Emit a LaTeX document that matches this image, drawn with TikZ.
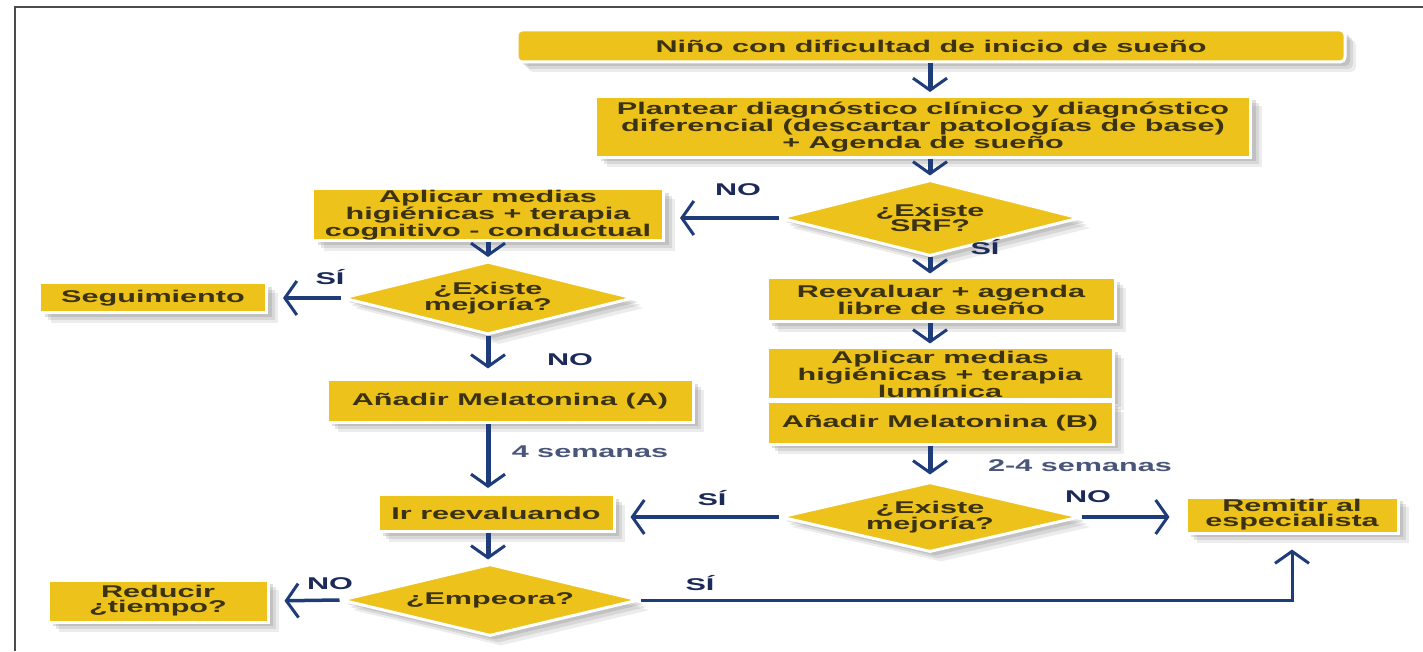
\documentclass[tikz,border=0pt]{standalone}
\usepackage{fontspec}
\setmainfont{Liberation Sans}[FakeStretch=1.8]
\usepackage{tikz}
\usetikzlibrary{arrows.meta,shapes.geometric,shadows}
\definecolor{boxyellow}{HTML}{EDC21A}
\definecolor{boxtext}{HTML}{3A3212}
\definecolor{arrowblue}{HTML}{1F3C7A}
\definecolor{lbltext}{HTML}{1B2A58}

\begin{document}
\begin{tikzpicture}[x=1pt,y=1pt,
  box/.style={rectangle,fill=boxyellow,draw=white,line width=3pt,text=boxtext,align=center,inner sep=0pt,
    font=\bfseries\fontsize{17}{15}\selectfont,
    drop shadow={shadow xshift=11pt,shadow yshift=-10pt,fill=black!50,opacity=.15},
    drop shadow={shadow xshift=8pt,shadow yshift=-7pt,fill=black!50,opacity=.2},
    drop shadow={shadow xshift=5pt,shadow yshift=-4pt,fill=black!50,opacity=.25}},
  dec/.style={box,diamond,aspect=4},
  lbl/.style={font=\bfseries\fontsize{17}{15}\selectfont,text=lbltext,inner sep=0pt},
  varrow/.style={->,line width=5pt,arrowblue,shorten >=3pt},
  harrow/.style={->,line width=3.5pt,arrowblue,shorten >=15pt}]
\useasboundingbox (0,0) rectangle (1423,651);
\draw[line width=2.5pt,black!70] (15,0) -- (15,644) -- (1423,644);

\coordinate (rc) at (930,0);
\coordinate (lc) at (488,0);

\begin{scope}
\node [box, rounded corners=5pt, minimum width=828, minimum height=32] (top) at (931,605) {Niño con dificultad de inicio de sueño};
\node [box, minimum width=655, minimum height=61] (plan) at (923,524) {Plantear diagnóstico clínico y diagnóstico\\diferencial (descartar patologías de base)\\+ Agenda de sueño};
\node [dec, minimum width=300, minimum height=76] (srf) at (930,433) {¿Existe\\SRF?};
\node [box, minimum width=351, minimum height=52] (aplA) at (488,436) {Aplicar medias\\higiénicas + terapia\\cognitivo - conductual};
\node [dec, minimum width=291, minimum height=73] (mejA) at (488,353) {¿Existe\\mejoría?};
\node [box, minimum width=227, minimum height=30] (seg) at (153,353) {Seguimiento};
\node [box, minimum width=366, minimum height=42] (melA) at (510,250) {Añadir Melatonina (A)};
\node [box, minimum width=236, minimum height=37] (irre) at (496,138) {Ir reevaluando};
\node [dec, minimum width=298, minimum height=72] (emp) at (490,51) {¿Empeora?};
\node [box, minimum width=220, minimum height=42] (red) at (158,50) {Reducir\\¿tiempo?};
\node [box, minimum width=348, minimum height=44] (reev) at (941,351) {Reevaluar + agenda\\libre de sueño};
\node [box, minimum width=346, minimum height=52] (aplB) at (940,277) {Aplicar medias\\higiénicas + terapia\\lumínica};
\node [box, minimum width=346, minimum height=42] (melB) at (940,228) {Añadir Melatonina (B)};
\node [dec, minimum width=300, minimum height=70] (mejB) at (930,134) {¿Existe\\mejoría?};
\node [box, minimum width=212, minimum height=36] (rem) at (1292,136) {Remitir al\\especialista};
\end{scope}

\begin{scope}[>={Straight Barb[length=12pt,width=34pt,line width'=3pt]}]
\draw [varrow] (top.south -| rc) -- (plan.north -| rc);
\draw [varrow] (plan.south -| rc) -- (srf.north);
\draw [varrow] (srf.south) -- (reev.north -| rc);
\draw [varrow] (reev.south -| rc) -- (aplB.north -| rc);
\draw [varrow, shorten >=6pt] (melB.south -| rc) -- (mejB.north);
\draw [varrow] (aplA.south -| lc) -- (mejA.north);
\draw [varrow, shorten >=10pt] (mejA.south) -- (melA.north -| lc);
\draw [varrow, shorten >=5pt] (melA.south -| lc) -- (irre.north -| lc);
\draw [varrow] (irre.south -| lc) -- (emp.north -| lc);
\draw [harrow] (srf.west) -- (srf.west -| aplA.east);
\draw [harrow] (mejA.west) -- (seg.east);
\draw [harrow] (emp.west) -- (red.east);
\draw [harrow] (mejB.west) -- (mejB.west -| irre.east);
\draw [harrow] (mejB.east) -- (mejB.east -| rem.west);
\draw [harrow, line width=3pt] (emp.east) -| (rem.south);
\end{scope}

\node [lbl] (noSrf) at (738,461) {NO};
\node [lbl] (siSrf) at (985,404) {SÍ};
\node [lbl] (siMejA) at (330,374) {SÍ};
\node [lbl] (noMejA) at (570,291) {NO};
\node [lbl, text=lbltext!80] (semA) at (590,199) {4 semanas};
\node [lbl, text=lbltext!80] (semB) at (1080,185) {2-4 semanas};
\node [lbl] (siMejB) at (712,153) {SÍ};
\node [lbl] (noMejB) at (1088,154) {NO};
\node [lbl] (noEmp) at (330,67) {NO};
\node [lbl] (siEmp) at (700,68) {SÍ};
\end{tikzpicture}
\end{document}
